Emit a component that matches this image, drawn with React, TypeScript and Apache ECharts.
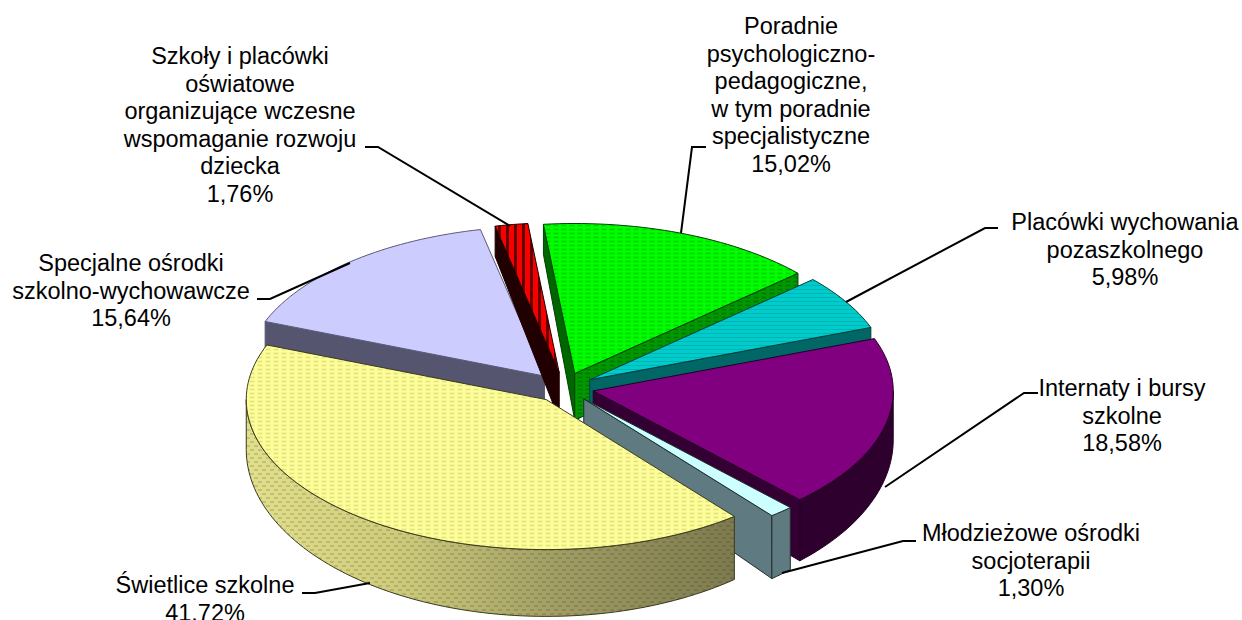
import React, { useEffect, useRef } from "react";
import * as echarts from "echarts";

// clockwise, starting at the slice that is painted first
const categories = [
  "Specjalne ośrodki\nszkolno-wychowawcze",
  "Szkoły i placówki\noświatowe\norganizujące wczesne\nwspomaganie rozwoju\ndziecka",
  "Poradnie\npsychologiczno-\npedagogiczne,\nw tym poradnie\nspecjalistyczne",
  "Placówki wychowania\npozaszkolnego",
  "Internaty i bursy\nszkolne",
  "Młodzieżowe ośrodki\nsocjoterapii",
  "Świetlice szkolne",
];
const values = [15.64, 1.76, 15.02, 5.98, 18.58, 1.3, 41.72];
const valueLabels = ["15,64%", "1,76%", "15,02%", "5,98%", "18,58%", "1,30%", "41.72%"];

const palette = [
  { top: "#ccccff", start: "#55556f", end: "#55556f", wall: "#55556f", line: "#5a5a7a", tile: "" },
  { top: "#f80000", start: "#200000", end: "#200000", wall: "#200000", line: "#200000", tile: "stripes" },
  { top: "#00ff00", start: "#006600", end: "#009900", wall: "#006600", line: "#004000", tile: "dashes" },
  { top: "#00cccc", start: "#006666", end: "#006666", wall: "#006666", line: "#004040", tile: "lines" },
  { top: "#800080", start: "#340034", end: "#340034", wall: "#2e002e", line: "#200020", tile: "" },
  { top: "#ccffff", start: "#5f7a80", end: "#5f7a80", wall: "#5f7a80", line: "#203030", tile: "" },
  { top: "#ffff99", start: "#77744b", end: "#77744b", wall: "", line: "#3a3a20", tile: "dots" },
];

const START_ANGLE = -68.64;
const CX = 564;
const CY = 387.5;
const RX = 300;
const RY = 150;
const EXPLODE = 0.1;
const depthAt = (y: number) => 30 + 0.113 * (y - 224);
const rad = (d: number) => (d * Math.PI) / 180;

function makeTile(w: number, h: number, bg: string | null, draw: (c: CanvasRenderingContext2D) => void) {
  const cv = document.createElement("canvas");
  cv.width = w;
  cv.height = h;
  const c = cv.getContext("2d")!;
  if (bg) {
    c.fillStyle = bg;
    c.fillRect(0, 0, w, h);
  }
  draw(c);
  return { image: cv, repeat: "repeat" };
}

function patternFor(kind: string, base: string, dark: boolean): any {
  if (kind === "dashes")
    return makeTile(8, 4, base, (c) => {
      c.fillStyle = dark ? "rgba(0,0,0,0.2)" : "rgba(0,90,0,0.2)";
      c.fillRect(2, 1, 4, 1);
      c.fillStyle = dark ? "rgba(0,0,0,0.06)" : "rgba(0,90,0,0.08)";
      c.fillRect(1, 0, 6, 3);
    });
  if (kind === "lines")
    return makeTile(8, 4, base, (c) => {
      c.fillStyle = "rgba(0,70,70,0.18)";
      c.fillRect(0, 1, 8, 1);
    });
  if (kind === "stripes")
    return makeTile(8, 4, base, (c) => {
      c.fillStyle = "rgba(60,0,0,0.8)";
      c.fillRect(2, 0, 3, 4);
    });
  if (kind === "dots")
    return makeTile(8, 4, base, (c) => {
      c.fillStyle = "rgba(110,110,40,0.16)";
      c.fillRect(2, 1, 4, 1);
      c.fillStyle = "rgba(110,110,40,0.06)";
      c.fillRect(1, 0, 6, 3);
    });
  return base;
}

const wallDots = () =>
  makeTile(8, 8, null, (c) => {
    c.fillStyle = "rgba(40,40,10,0.16)";
    c.fillRect(2, 1, 4, 2);
    c.fillRect(6, 5, 2, 2);
    c.fillRect(0, 5, 2, 2);
  });

const fills = palette.map((p) => ({
  top: patternFor(p.tile, p.top, false),
  start: p.start,
  end: patternFor(p.tile === "dashes" ? "dashes" : "", p.end, true),
}));
const wallOverlay = wallDots();

function renderSlice(params: any, api: any) {
  const i = params.dataIndex;
  const share = api.value(0);
  const before = values.slice(0, i).reduce((s, v) => s + v, 0);
  const a0 = START_ANGLE + before * 3.6;
  const a1 = a0 + share * 3.6;
  const mid = rad((a0 + a1) / 2);
  const ax = CX + RX * EXPLODE * Math.sin(mid);
  const ay = CY - RY * EXPLODE * Math.cos(mid);
  const rim = (a: number): number[] => [ax + RX * Math.sin(rad(a)), ay - RY * Math.cos(rad(a))];
  const low = (p: number[]): number[] => [p[0], p[1] + depthAt(p[1])];
  const st = palette[i];
  const f = fills[i];
  const children: any[] = [];
  const lineStyle = { stroke: st.line, lineWidth: 1, lineJoin: "round" };
  const apex = [ax, ay];

  const face = (a: number, fill: any) => {
    const r = rim(a);
    children.push({
      type: "polygon",
      shape: { points: [apex, r, low(r), low(apex)] },
      style: { fill, ...lineStyle },
    });
  };
  if (Math.sin(rad(a0)) < 0) face(a0, f.start);
  if (Math.sin(rad(a1)) > 0) face(a1, f.end);

  const w0 = Math.max(a0, 90);
  const w1 = Math.min(a1, 270);
  if (w1 > w0) {
    const n = Math.max(2, Math.ceil((w1 - w0) / 1.5));
    const upper: number[][] = [];
    for (let k = 0; k <= n; k++) upper.push(rim(w0 + ((w1 - w0) * k) / n));
    const pts = upper.concat(upper.slice().reverse().map(low));
    const gradient = st.wall
      ? st.wall
      : {
          type: "linear",
          x: 1,
          y: 0,
          x2: 0,
          y2: 0,
          colorStops: [
            { offset: 0, color: "#7d7a4e" },
            { offset: 0.35, color: "#9f9c64" },
            { offset: 0.7, color: "#cfcd7c" },
            { offset: 1, color: "#e2e08c" },
          ],
        };
    children.push({ type: "polygon", shape: { points: pts }, style: { fill: gradient, ...lineStyle } });
    if (!st.wall) children.push({ type: "polygon", shape: { points: pts }, style: { fill: wallOverlay } });
  }

  const n = Math.max(2, Math.ceil((a1 - a0) / 1.5));
  const top: number[][] = [apex];
  for (let k = 0; k <= n; k++) top.push(rim(a0 + ((a1 - a0) * k) / n));
  children.push({ type: "polygon", shape: { points: top }, style: { fill: f.top, ...lineStyle } });
  return { type: "group", children };
}

// per slice: leader polyline, label centre x, first line centre y
const leaders = [
  [[257, 299], [270, 299], [350, 263]],
  [[365, 147], [378, 147], [510, 226]],
  [[706, 147], [692, 147], [681, 233]],
  [[998, 228], [985, 228], [846, 302]],
  [[1038, 393], [1024, 393], [885, 487]],
  [[916, 541], [903, 541], [782, 573]],
  [[302, 593], [315, 593], [370, 583]],
];
const labelAnchors = [
  [131, 263],
  [240, 56],
  [791, 26],
  [1125, 222],
  [1122, 388],
  [1031, 533],
  [205, 585],
];
const LINE_H = 27.6;

export default function App() {
  const ref = useRef<HTMLDivElement>(null);
  useEffect(() => {
    const chart = echarts.init(ref.current!, undefined, { renderer: "svg" });
    const graphics: any[] = [];
    leaders.forEach((pts) => {
      graphics.push({
        type: "polyline",
        z: 10,
        shape: { points: pts },
        style: { stroke: "#000", lineWidth: 2, fill: "none" },
      });
    });
    categories.forEach((name, i) => {
      const lines = name.split("\n").concat(valueLabels[i]);
      lines.forEach((t, k) => {
        graphics.push({
          type: "text",
          z: 11,
          x: labelAnchors[i][0],
          y: labelAnchors[i][1] + k * LINE_H,
          style: {
            text: t,
            fill: "#000",
            align: "center",
            verticalAlign: "middle",
            font: '23.5px "Liberation Sans", Arial, sans-serif',
          },
        });
      });
    });
    chart.setOption({
      animation: false,
      backgroundColor: "#fff",
      graphic: graphics,
      series: [
        {
          type: "custom",
          coordinateSystem: "none",
          silent: true,
          clip: false,
          renderItem: renderSlice,
          data: values.map((v) => [v]),
        },
      ],
    });
    return () => chart.dispose();
  }, []);
  return <div ref={ref} style={{ position: "fixed", left: 0, top: 0, width: 1242, height: 620 }} />;
}
